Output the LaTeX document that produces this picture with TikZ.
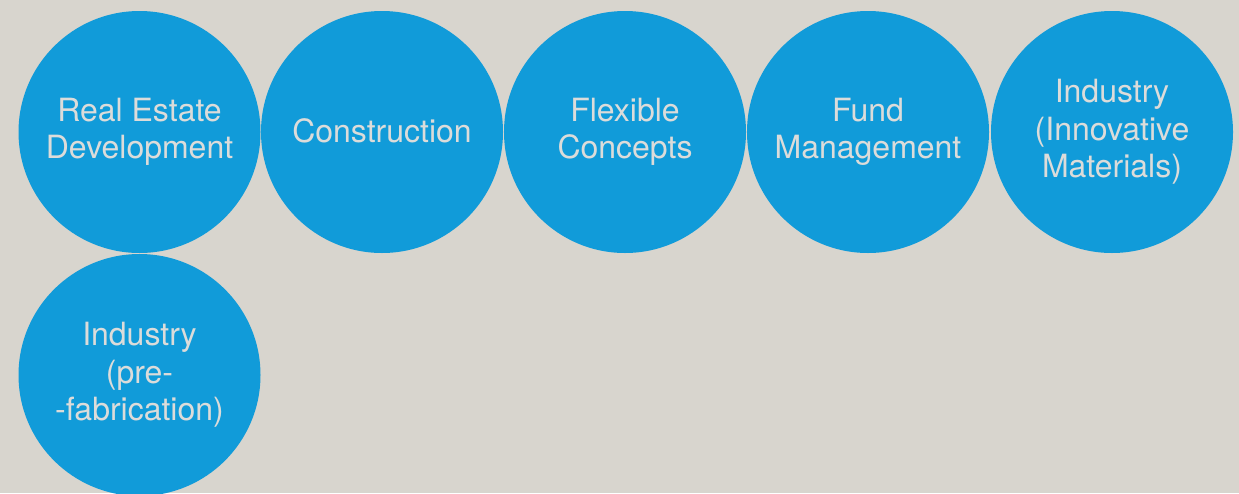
\documentclass[tikz,border=0pt]{standalone}
\usepackage{fontspec}
\setmainfont{TeX Gyre Heros}
\definecolor{bg}{HTML}{D8D5CE}
\definecolor{blu}{HTML}{119BD9}
\definecolor{txt}{HTML}{DCDCDA}
\begin{document}
\begin{tikzpicture}[x=1pt,y=-1pt,
  bubble/.style={circle,fill=blu,draw=none,minimum size=242pt,inner sep=0pt,
    text=txt,align=center,font=\fontsize{32}{37.5}\selectfont}]
\fill[bg] (0,0) rectangle (1239,493);
\useasboundingbox (0,0) rectangle (1239,493);
\begin{scope}
\clip (0,0) rectangle (1239,493);
\node[bubble] (red) at (139.5,132) {Real Estate\\Development};
\node[bubble] (con) at (382,132) {\raisebox{3pt}{Construction}};
\node[bubble] (flx) at (625,132) {Flexible\\Concepts};
\node[bubble] (fun) at (868,132) {Fund\\Management};
\node[bubble] (inm) at (1112,132) {Industry\\(Innovative\\Materials)};
\node[bubble] (ipf) at (139.5,375) {Industry\\(pre-\\-fabrication)};
\end{scope}
\end{tikzpicture}
\end{document}
